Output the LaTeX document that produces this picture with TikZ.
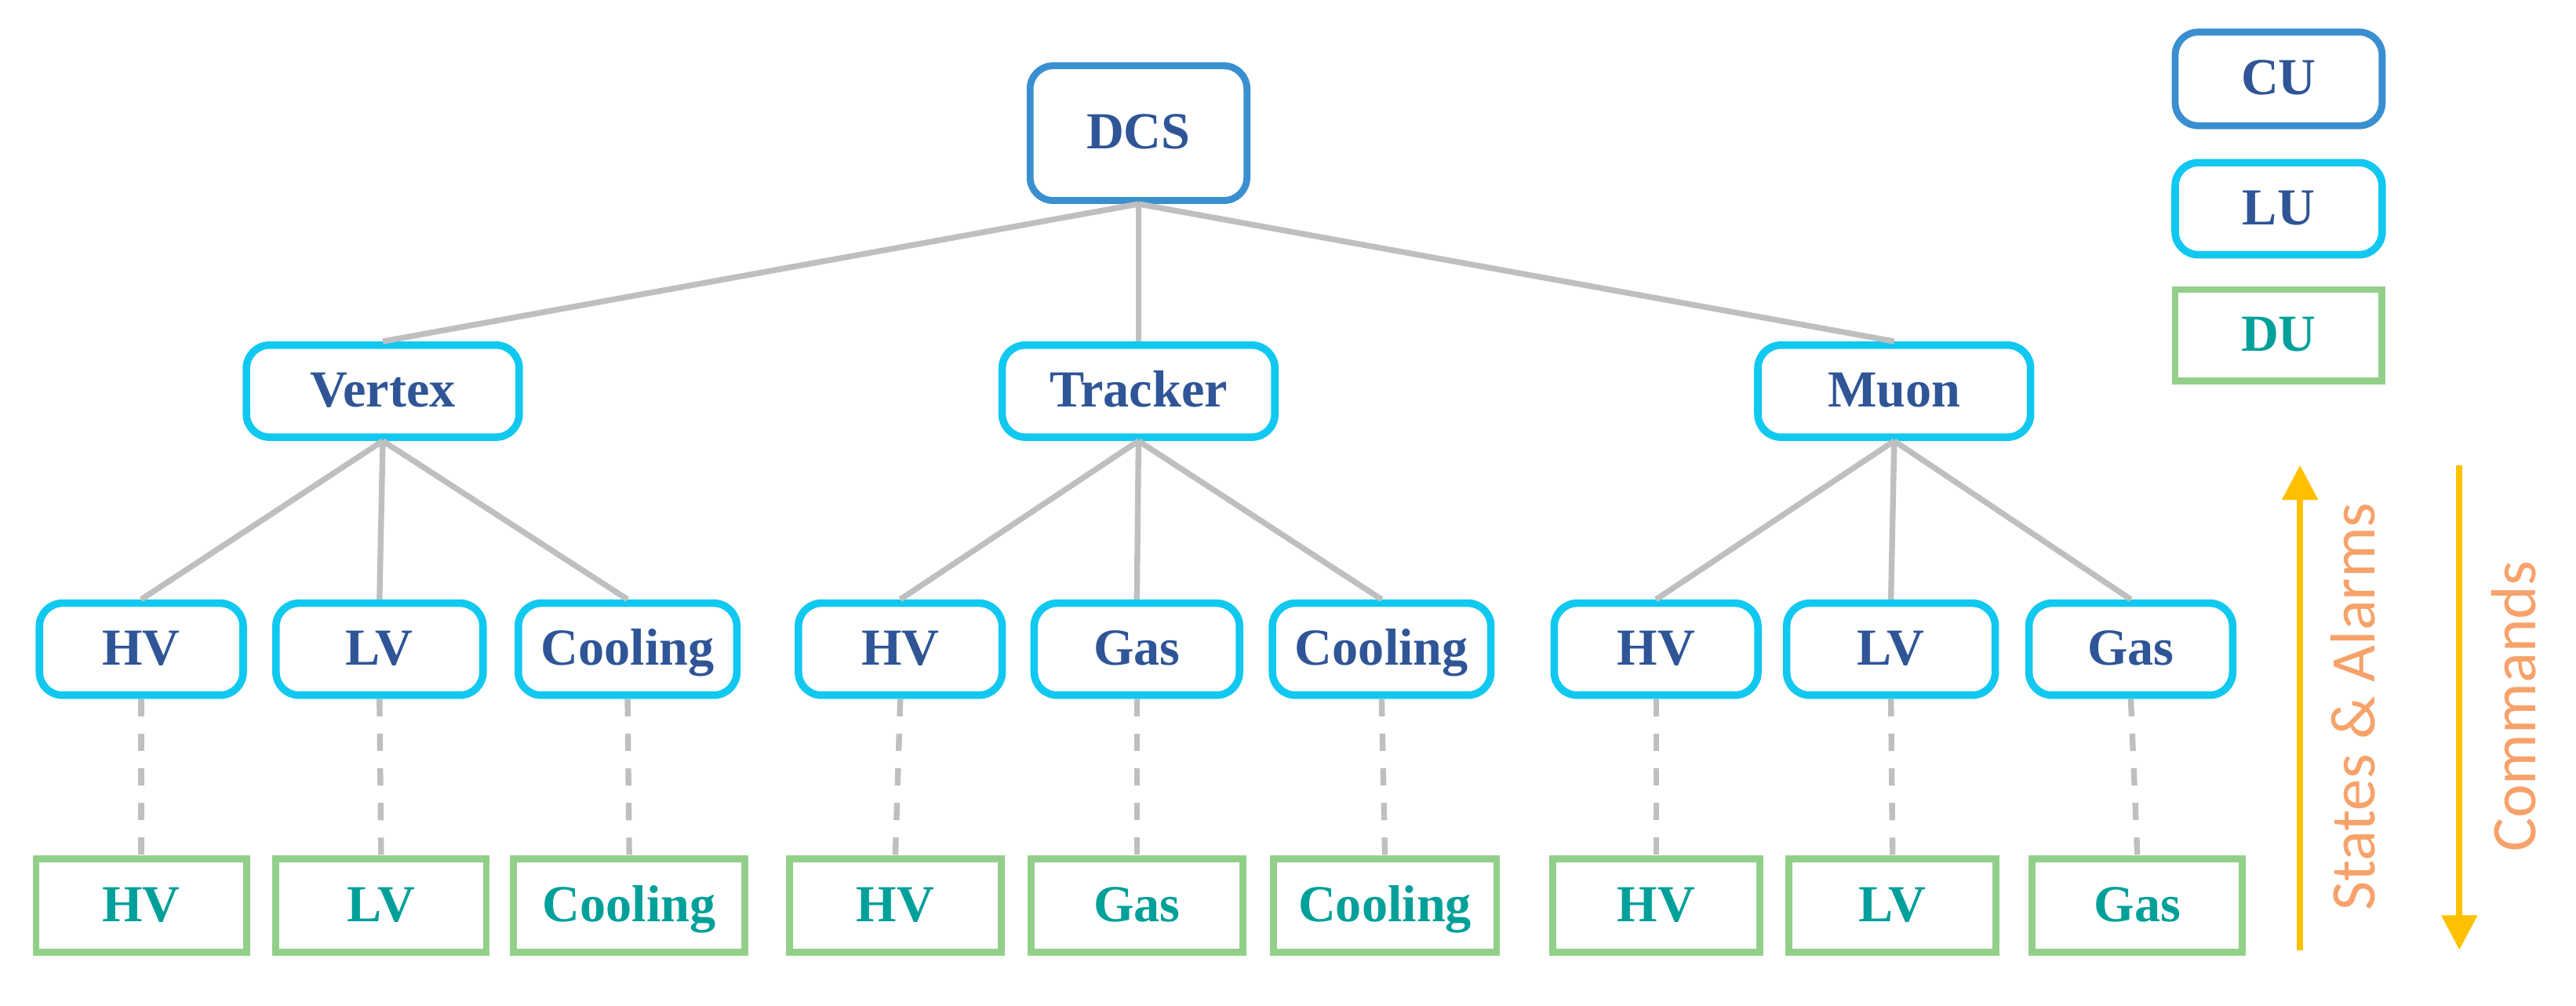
\documentclass[tikz,border=0pt]{standalone}
\usepackage{fontspec}
\setmainfont{Liberation Serif}
\newfontfamily\lblfont{Carlito}
\usetikzlibrary{positioning,arrows.meta}
\definecolor{cublue}{HTML}{3A8FD0}
\definecolor{lucyan}{HTML}{10C8F0}
\definecolor{dugreen}{HTML}{92D08A}
\definecolor{txtblue}{HTML}{2F5597}
\definecolor{txtteal}{HTML}{00A09A}
\definecolor{edgegray}{HTML}{BFBFBF}
\definecolor{arrorange}{HTML}{FFC000}
\definecolor{lblorange}{HTML}{F7A26A}
\tikzstyle{cubox}=[rectangle, rounded corners=4pt, draw=cublue, line width=1.2pt, fill=white,
                   minimum width=13.2mm, minimum height=8.2mm, text=txtblue, text height=1.6ex, text depth=0.4ex,
                   font=\fontsize{9}{11}\selectfont\bfseries]
\tikzstyle{lubox}=[rectangle, rounded corners=4pt, draw=lucyan, line width=1.3pt, fill=white,
                   minimum height=5.6mm, text=txtblue, text height=1.6ex, text depth=0.4ex,
                   font=\fontsize{9}{11}\selectfont\bfseries]
\tikzstyle{dubox}=[rectangle, draw=dugreen, line width=1.2pt, fill=white,
                   minimum height=5.7mm, text=txtteal, text height=1.6ex, text depth=0.4ex,
                   font=\fontsize{9}{11}\selectfont\bfseries]
\tikzstyle{tline}=[-, edgegray, line width=1pt]
\tikzstyle{dline}=[-, edgegray, line width=1pt, dashed]
\tikzstyle{flow}=[-{Triangle[length=6pt,width=6pt]}, arrorange, line width=1.1pt]
\begin{document}
\begin{tikzpicture}
\useasboundingbox (0,0) rectangle (15.68,-6.12);

\node (DCS) [cubox] at (6.93,-0.81) {DCS};

\node (Vertex) [lubox, minimum width=16.6mm] at (2.33,-2.38) {Vertex};
\node (Tracker) [lubox, minimum width=16.6mm] at (6.93,-2.38) {Tracker};
\node (Muon) [lubox, minimum width=16.6mm] at (11.53,-2.38) {Muon};
\foreach \sub in {Vertex,Tracker,Muon}
 \draw[tline] (DCS.south) -- (\sub.north);

% logical units
\foreach \name/\x/\w/\txt/\up in {
  VHV/0.86/12.4/HV/Vertex, VLV/2.31/12.6/LV/Vertex, VCool/3.82/13.3/Cooling/Vertex,
  THV/5.48/12.4/HV/Tracker, TGas/6.92/12.5/Gas/Tracker, TCool/8.41/13.3/Cooling/Tracker,
  MHV/10.08/12.4/HV/Muon, MLV/11.51/12.7/LV/Muon, MGas/12.97/12.4/Gas/Muon}
{
 \node (\name) [lubox, minimum width=\w mm] at (\x,-3.95) {\txt};
 \draw[tline] (\up.south) -- (\name.north);
}

% device units
\foreach \name/\x/\w/\txt/\up in {
  dVHV/0.86/12.8/HV/VHV, dVLV/2.32/12.8/LV/VLV, dVCool/3.83/14.1/Cooling/VCool,
  dTHV/5.45/12.9/HV/THV, dTGas/6.92/12.9/Gas/TGas, dTCool/8.43/13.6/Cooling/TCool,
  dMHV/10.08/12.6/HV/MHV, dMLV/11.52/12.6/LV/MLV, dMGas/13.01/12.8/Gas/MGas}
{
 \node (\name) [dubox, minimum width=\w mm] at (\x,-5.51) {\txt};
 \draw[dline] (\up.south) -- (\name.north);
}

% legend
\node (CUleg) [cubox, minimum width=12.6mm, minimum height=5.7mm] at (13.87,-0.48) {CU};
\node (LUleg) [lubox, minimum width=12.6mm] at (13.87,-1.27) {LU};
\node (DUleg) [dubox, minimum width=12.6mm, minimum height=5.5mm] at (13.87,-2.04) {DU};

\coordinate (SAlow) at (14.00,-5.78);
\coordinate (SAhigh) at (14.00,-2.83);
\coordinate (CMhigh) at (14.97,-2.83);
\coordinate (CMlow) at (14.97,-5.78);
\draw[flow] (SAlow) -- (SAhigh);
\draw[flow] (CMhigh) -- (CMlow);
\node (SAlbl) [rotate=90, text=lblorange, font=\lblfont\fontsize{11}{13}\selectfont] at (14.32,-4.30) {States \& Alarms};
\node (CMlbl) [rotate=90, text=lblorange, font=\lblfont\fontsize{11}{13}\selectfont] at (15.30,-4.30) {Commands};

\end{tikzpicture}
\end{document}
